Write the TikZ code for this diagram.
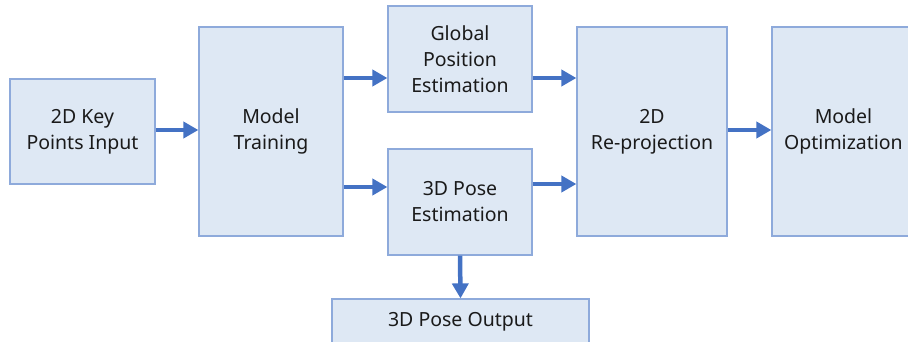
\documentclass[tikz,border=0pt]{standalone}
\usepackage{fontspec}
\setmainfont{Noto Sans}
\usetikzlibrary{arrows.meta}
\definecolor{boxfill}{HTML}{DEE8F4}
\definecolor{boxline}{HTML}{8EAADB}
\definecolor{arrowblue}{HTML}{4472C4}
\definecolor{txt}{HTML}{1A1A1A}
\tikzset{
  blk/.style={draw=boxline, line width=1.2pt, fill=boxfill, rectangle, align=center,
    text=txt, font=\fontsize{19.5}{26}\selectfont, inner sep=0pt},
  arr/.style={draw=arrowblue, line width=4.5pt, -{Triangle[length=15pt,width=16pt]}}
}
\begin{document}
\begin{tikzpicture}[x=1pt,y=-1pt]
\useasboundingbox (0,0) rectangle (908,341);
\clip (0,0) rectangle (908,341);
\node[blk, minimum width=145pt, minimum height=105pt] (A) at (82.5,131.5) {2D Key\\Points Input};
\node[blk, minimum width=144pt, minimum height=209pt] (B) at (271,131.5) {Model\\Training};
\node[blk, minimum width=144pt, minimum height=106pt] (C) at (460,59) {Global\\Position\\Estimation};
\node[blk, minimum width=144pt, minimum height=106pt] (D) at (460,202) {3D Pose\\Estimation};
\node[blk, minimum width=150pt, minimum height=209pt] (E) at (652,131.5) {2D\\Re-projection};
\node[blk, minimum width=143pt, minimum height=209pt] (F) at (843.5,131.5) {Model\\Optimization};
\node[blk, minimum width=257pt, minimum height=45pt] (G) at (460.5,321.5) {3D Pose Output};
\draw[arr] (A.east |- 0,130) -- (B.west |- 0,130);
\draw[arr] (B.east |- 0,78) -- (C.west |- 0,78);
\draw[arr] (B.east |- 0,187) -- (D.west |- 0,187);
\draw[arr] (C.east |- 0,78) -- (E.west |- 0,78);
\draw[arr] (D.east |- 0,184) -- (E.west |- 0,184);
\draw[arr] (E.east |- 0,130) -- (F.west |- 0,130);
\draw[arr] (D.south) -- (G.north);
\end{tikzpicture}
\end{document}
